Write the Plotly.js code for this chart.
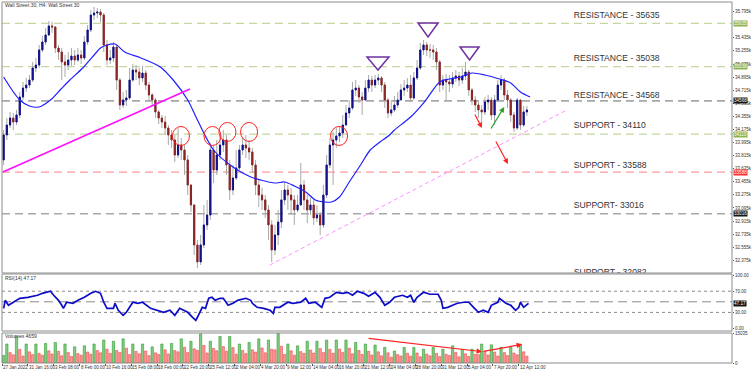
<!DOCTYPE html>
<html><head><meta charset="utf-8">
<script src="https://cdn.plot.ly/plotly-3.0.1.min.js"></script>
<style>html,body{margin:0;padding:0;background:#fff}#chart{width:751px;height:372px}</style>
</head><body><div id="chart"></div>
<script>
// ---------- DATA (8-hour candles, x = bar index in 4h bars) ----------
const firstOpen = 33755;
const closes = [
34099,34236,34332,34277,34374,34621,34745,34786,34855,35020,
35061,35268,35378,35474,35598,35584,35295,35240,35103,35061,
35130,35185,35130,35199,35158,35378,35543,35749,35777,35790,
35749,35337,35130,35158,35309,34855,34511,34580,34608,34855,
34993,34965,34883,34951,34786,34649,34580,34415,34332,34277,
34195,34099,34030,33823,33961,33892,33755,33411,33136,32586,
32352,32586,32861,32998,33892,33617,33823,33961,34030,33686,
33342,33507,33645,33892,33961,33920,33865,33686,33411,33273,
33205,33067,32861,32517,32723,32902,33205,33342,33273,33205,
33067,33136,33411,33205,33067,33136,32957,32998,32861,33273,
33686,33961,34030,34085,34126,34236,34401,34470,34718,34745,
34621,34580,34745,34855,34786,34855,34883,34786,34580,34401,
34443,34511,34580,34718,34745,34786,34608,34883,35020,35268,
35337,35268,35268,35240,35103,34786,34855,34828,34800,34883,
34910,34855,34910,34965,34718,34580,34511,34443,34415,34553,
34580,34374,34580,34786,34855,34649,34580,34374,34195,34580,
34236,34415,34443];
const highs = [
34167,34332,34415,34401,34443,34690,34828,34883,34924,35103,
35158,35337,35460,35570,35667,35653,35598,35337,35295,35199,
35240,35295,35268,35295,35268,35460,35612,35818,35859,35845,
35832,35777,35405,35268,35378,35337,34883,34690,34718,35020,
35075,35061,35020,35048,34993,34828,34676,34608,34443,34374,
34360,34236,34167,34099,34195,34057,33961,33823,33411,33136,
32654,32723,33136,33205,33988,33961,34030,34099,34167,34099,
33755,33686,33892,33961,34057,34099,34030,33920,33755,33480,
33370,33273,33136,32929,32861,33067,33342,33452,33411,33370,
33273,33273,33713,33480,33273,33232,33205,33136,33040,33411,
33823,34057,34140,34195,34209,34374,34511,34580,34828,34855,
34786,34690,34855,34924,34910,34924,34938,34910,34828,34608,
34580,34635,34690,34800,34855,34883,34924,34965,35130,35364,
35405,35378,35350,35337,35295,35130,34924,34938,34924,34965,
34993,34965,35020,35103,34993,34745,34635,34580,34511,34621,
34649,34621,34649,34855,34924,34883,34718,34608,34415,34608,
34580,34498,34498];
const lows = [
33686,34030,34195,34167,34236,34332,34580,34690,34745,34828,
34965,35020,35240,35337,35460,35502,35226,35130,34855,34896,
34993,35048,35061,35103,35075,35130,35337,35515,35680,35708,
35653,35240,35061,35075,35103,34718,34443,34470,34498,34580,
34830,34855,34786,34828,34718,34580,34498,34332,34250,34195,
34099,33961,33920,33727,33782,33755,33548,33273,33040,32448,
32269,32310,32544,32792,32929,33438,33548,33755,33865,33548,
33205,33273,33480,33617,33823,33782,33755,33576,33273,33108,
33067,32957,32654,32352,32448,32586,32819,33136,33067,32998,
32861,33040,33136,33067,32888,32998,32861,32902,32723,32819,
33232,33645,33411,33920,34002,34057,34236,34332,34443,34635,
34539,34374,34580,34690,34690,34745,34786,34690,34470,34332,
34360,34415,34470,34580,34635,34690,34553,34580,34855,34993,
35199,35185,35158,35130,34993,34690,34718,34580,34690,34745,
34828,34773,34800,34855,34635,34511,34415,34332,34236,34374,
34443,34305,34236,34553,34718,34580,34470,34277,34140,34167,
34167,34210,34360];
const volumes = [
3800,9500,5200, 4100,13300,6800, 3500,9500,5600, 4200,9500,4800, 3900,9800,6100,
4500,10300,5900, 3600,9500,5200, 3300,8100,4700, 3900,8600,5500, 4400,9500,6200,
5100,11500,6900, 4800,10900,6300, 5300,12100,7400, 4200,9500,5800, 4600,9500,6000,
3700,8100,5100, 4300,9500,6600, 4500,9800,6200, 5600,12100,7900, 5200,10900,7100,
6400,14600,8800, 5000,10900,7300, 6100,13300,8200, 5900,13300,7700, 4400,9500,6300,
4700,10300,6600, 5500,12100,7500, 5100,11500,6900, 6600,15000,8400, 4300,9500,6100,
3900,8600,5700, 4800,10900,6500, 5000,10900,7200, 5200,11500,6800, 4900,11500,7000,
5300,11500,7400, 4600,10300,6300, 4300,9500,5900, 4000,9000,5600, 3600,7800,5100,
2900,6000,4200, 3500,7800,4900, 3400,7800,5000, 3100,6900,4500, 3600,7800,4800,
3200,6900,4400, 3800,8600,5300, 3100,6900,4600, 3300,6900,4300, 4200,9500,5800,
4000,9100,5500, 3500,7800,5200, 3700,8100,5000, 4100,9500,5600, 3400];
const maX = [0,10,16,22,29,35,41,49,55,60,64,69,75,85,97,105,114,120,130,142,153,159,168,174,180,187,193,199,203,208,214,221,227,233,239,242,252,261,270,276,283,290,298,307,314,320,326];
const maY = [34896,34580,34498,34484,34580,34718,34855,35020,35172,35295,35337,35350,35240,35158,35034,34855,34580,34305,33892,33658,33521,33480,33438,33452,33397,33315,33205,33177,33177,33246,33452,33686,33892,34002,34099,34167,34346,34566,34828,34869,34896,34951,34924,34869,34814,34690,34621];
const rsiX = [0,1,3,6,10,15,21,24,29,31,34,36,37,39,43,46,50,54,57,60,62,64,68,69,71,74,76,78,80,83,86,91,95,99,103,106,109,114,117,119,120,123,125,127,129,131,134,136,139,142,145,150,153,154,157,161,165,167,168,171,176,179,184,187,189,193,197,199,202,206,210,213,216,219,223,226,230,233,236,239,242,247,250,252,254,256,260,264,269,271,272,275,278,281,285,288,291,294,297,300,302,306,307,311,314,317,319,320,322,324,325];
const rsiY = [37.7,52.8,43.4,49.1,56.6,58.5,62.3,66.0,69.8,62.3,52.8,43.4,37.7,49.1,47.2,52.8,58.5,66.0,69.8,66.0,49.1,37.7,37.7,47.2,34.0,24.5,30.2,39.6,49.1,47.2,49.1,37.7,34.0,30.2,34.0,24.5,37.7,30.2,20.8,15.1,20.8,39.6,37.7,56.6,58.5,52.8,56.6,56.6,43.4,47.2,52.8,56.6,52.8,47.2,39.6,37.7,34.0,28.3,39.6,39.6,49.1,47.2,49.1,56.6,47.2,49.1,39.6,56.6,58.5,67.9,66.0,67.9,62.3,69.8,66.0,60.4,67.9,58.5,43.4,49.1,58.5,62.3,58.5,62.3,49.1,58.5,67.9,64.2,64.2,52.8,37.7,39.6,43.4,47.2,49.1,49.1,39.6,30.2,34.0,30.2,43.4,49.1,56.6,47.2,43.4,34.0,39.6,49.1,39.6,45.3,47.2];
const levelValues = [35635, 35038, 34568, 34110, 33588, 33016, 32082];
const levelTexts = ["RESISTANCE - 35635","RESISTANCE - 35038","RESISTANCE - 34568","SUPPORT - 34110","SUPPORT - 33588","SUPPORT- 33016","SUPPORT - 32082"];
const priceTicks = [32375,32555,32735,32915,33095,33275,33455,33635,33815,33995,34175,34355,34535,34715,34895,35075,35255,35435,35795];
const timeLabels = ["27 Jan 2022","31 Jan 16:00","3 Feb 08:00","8 Feb 00:00","10 Feb 16:00","15 Feb 08:00","18 Feb 00:00","22 Feb 20:00","25 Feb 12:00","2 Mar 04:00","4 Mar 20:00","9 Mar 12:00","14 Mar 04:00","16 Mar 20:00","21 Mar 12:00","24 Mar 04:00","28 Mar 20:00","31 Mar 12:00","5 Apr 04:00","7 Apr 20:00","12 Apr 12:00"];
const rsiLast = 47.17;
const volumeLast = 4659;
const volumeMax = 15035;

// ---------- DERIVED ----------
const BARS_PER_CANDLE = 2, BARS_PER_LABEL = 16;
const xs = closes.map((_, k) => k * BARS_PER_CANDLE);
const opens = closes.map((c, k) => k === 0 ? firstOpen : closes[k - 1]);
const bodyHi = closes.map((c, k) => Math.max(c, opens[k]));
const bodyLo = closes.map((c, k) => Math.min(c, opens[k]));
const volColors = volumes.map((v, k) => (k === 0 || v > volumes[k - 1]) ? '#86cc86' : '#ff9a9a');
const volLines = volumes.map((v, k) => (k === 0 || v > volumes[k - 1]) ? '#2e9a2e' : '#e84848');

// ---------- GEOMETRY ----------
const W = 751, H = 372, ML = 2, MR = 19, MT = 2, MB = 9;
const PH = H - MT - MB;
const py = p => (H - MB - p) / PH;        // pixel row -> paper y
const mainDom = [py(273), 1], rsiDom = [py(331), py(274)], volDom = [0, py(333)];
const mainRange = [32200, 35928];
const ppp = (mainRange[1] - mainRange[0]) / ((1 - mainDom[0]) * PH); // price per pixel

const levelColor = ['#c4d79f', '#c4d79f', '#a8a8a8', '#c4d79f', '#ff9c9c', '#a8a8a8'];
const levelBox = ['#8fb251', '#8fb251', '#151515', '#8fb251', '#ff2a2a', '#151515'];
const textPxAbove = [7.6, 7.7, 5.5, 8, 6, 7.7, 0];

const traces = [
  { type: 'candlestick', x: xs, open: opens, high: highs, low: lows, close: closes,
    xaxis: 'x', yaxis: 'y', hoverinfo: 'skip', whiskerwidth: 0,
    increasing: { line: { color: '#a9a9a9', width: 1 }, fillcolor: '#a9a9a9' },
    decreasing: { line: { color: '#a9a9a9', width: 1 }, fillcolor: '#a9a9a9' } },
  { type: 'candlestick', x: xs, open: opens, high: bodyHi, low: bodyLo, close: closes,
    xaxis: 'x', yaxis: 'y', hoverinfo: 'skip', whiskerwidth: 0,
    increasing: { line: { color: '#10108c', width: 1 }, fillcolor: '#10108c' },
    decreasing: { line: { color: '#8c2323', width: 1 }, fillcolor: '#8c2323' } },
  { type: 'scatter', mode: 'lines', x: maX, y: maY, xaxis: 'x', yaxis: 'y',
    line: { color: '#1f1fff', width: 1.2, shape: 'spline', smoothing: 0.8 }, hoverinfo: 'skip' },
  { type: 'scatter', mode: 'text', x: levelValues.map(() => 353), cliponaxis: true,
    y: levelValues.map((v, i) => i < 6 ? v + textPxAbove[i] * ppp : mainRange[0] + 0.6 * ppp),
    text: levelTexts, textposition: 'middle right', xaxis: 'x', yaxis: 'y', hoverinfo: 'skip',
    textfont: { family: 'Liberation Sans, Arial, sans-serif', size: 8.6, color: '#333' } },
  { type: 'scatter', mode: 'lines', x: rsiX, y: rsiY, xaxis: 'x', yaxis: 'y2',
    line: { color: '#0c0cc8', width: 1.7 }, hoverinfo: 'skip' },
  { type: 'bar', x: xs, y: volumes, xaxis: 'x', yaxis: 'y3', hoverinfo: 'skip',
    marker: { color: volColors, line: { color: volLines, width: 0.6 } } }
];

const smallFont = { family: 'Liberation Sans, Arial, sans-serif', size: 5, color: '#333' };
const dateFont = { family: 'Liberation Sans, Arial, sans-serif', size: 4.5, color: '#333' };
const tickFont = { family: 'Liberation Sans, Arial, sans-serif', size: 4.5, color: '#333' };
const shapes = [];
const annotations = [];

// level lines + right boxes
levelValues.slice(0, 6).forEach((v, i) => {
  shapes.push({ type: 'line', xref: 'paper', x0: 0, x1: 1, yref: 'y', y0: v, y1: v, layer: 'below',
    line: { color: levelColor[i], width: (i === 2 || i === 5) ? 1.6 : 1.2, dash: '8px,5px' } });
  annotations.push({ xref: 'paper', x: 1, xanchor: 'left', xshift: 1, yref: 'y', y: v, yanchor: 'middle',
    text: String(v), showarrow: false, bgcolor: levelBox[i], borderpad: 0,
    font: { family: 'Liberation Sans, Arial, sans-serif', size: 4.6, color: '#fff' } });
});
// trend lines
shapes.push({ type: 'line', xref: 'x', yref: 'y', x0: -0.4, y0: 33590, x1: 115.4, y1: 34731,
  line: { color: '#ff10ff', width: 1.6 } });
shapes.push({ type: 'line', xref: 'x', yref: 'y', x0: 164.9, y0: 32310, x1: 348.8, y1: 34443,
  line: { color: '#ff90ff', width: 1, dash: '4px,3px' } });
// circles
[[109.8, 34085], [129.3, 34085], [138.6, 34140], [152, 34140], [207.7, 34085]].forEach(c => {
  shapes.push({ type: 'circle', xref: 'x', yref: 'y', xsizemode: 'pixel', ysizemode: 'pixel',
    xanchor: c[0], yanchor: c[1], x0: -8.5, x1: 8.5, y0: -9.5, y1: 9.5, line: { color: '#ff2020', width: 1 } });
});
// triangles
[[225, 238.6, 35172, 34993], [256.6, 269, 35639, 35447], [282.6, 294.4, 35309, 35130]].forEach(t => {
  shapes.push({ type: 'path', xref: 'x', yref: 'y', line: { color: '#7030a0', width: 1.5 },
    path: `M ${t[0]} ${t[2]} L ${t[1]} ${t[2]} L ${(t[0] + t[1]) / 2} ${t[3]} Z` });
});
// arrows on price
[[296.2, 34195, 291.3, 34401, '#ff2020'], [312.3, 33700, 304.3, 34030, '#ff2020'], [310, 34484, 301.2, 34167, '#2ca02c']].forEach(a => {
  annotations.push({ xref: 'x', yref: 'y', x: a[0], y: a[1], axref: 'x', ayref: 'y', ax: a[2], ay: a[3],
    text: '', showarrow: true, arrowhead: 2, arrowsize: 0.9, arrowwidth: 1.2, arrowcolor: a[4], standoff: 0 });
});
// arrows on volume
[[296.2, 5683, 225, 12400], [321, 9300, 296.2, 5683]].forEach(a => {
  annotations.push({ xref: 'x', yref: 'y3', x: a[0], y: a[1], axref: 'x', ayref: 'y3', ax: a[2], ay: a[3],
    text: '', showarrow: true, arrowhead: 2, arrowsize: 0.9, arrowwidth: 1.2, arrowcolor: '#ff2020', standoff: 0 });
});
// RSI guide lines
[[70, 'dot'], [30, 'dot'], [50, '9px,5px']].forEach(g => {
  shapes.push({ type: 'line', xref: 'paper', x0: 0, x1: 1, yref: 'y2', y0: g[0], y1: g[0], layer: 'below',
    line: { color: '#8a8a8a', width: 1, dash: g[1] } });
});
annotations.push({ xref: 'paper', x: 1, xanchor: 'left', xshift: 1, yref: 'y2', y: rsiLast, yanchor: 'middle',
  text: rsiLast.toFixed(2), showarrow: false, bgcolor: '#151515', borderpad: 0,
  font: { family: 'Liberation Sans, Arial, sans-serif', size: 4.6, color: '#fff' } });
// panel frames
[mainDom, rsiDom, volDom].forEach(d => {
  shapes.push({ type: 'rect', xref: 'paper', yref: 'paper', x0: 0, x1: 1, y0: d[0], y1: d[1],
    line: { color: '#8c8c8c', width: 1 } });
});
// texts
annotations.push({ xref: 'paper', yref: 'paper', x: 0.002, y: py(5), xanchor: 'left', yanchor: 'middle',
  text: 'Wall Street 30, H4: Wall Street 30', showarrow: false, font: smallFont });
annotations.push({ xref: 'paper', yref: 'paper', x: 0.002, y: py(278), xanchor: 'left', yanchor: 'middle',
  text: 'RSI(14) ' + rsiLast.toFixed(2), showarrow: false, font: smallFont });
annotations.push({ xref: 'paper', yref: 'paper', x: 0.002, y: py(335.5), xanchor: 'left', yanchor: 'middle',
  text: 'Volumes ' + volumeLast, showarrow: false, font: smallFont });
timeLabels.forEach((t, i) => {
  annotations.push({ xref: 'x', yref: 'paper', x: i * BARS_PER_LABEL - 1, y: py(367.5), xanchor: 'left', yanchor: 'middle',
    text: t, showarrow: false, font: dateFont, borderpad: 0 });
});

const layout = {
  width: W, height: H, margin: { l: ML, r: MR, t: MT, b: MB },
  paper_bgcolor: '#fff', plot_bgcolor: '#fff', showlegend: false, hovermode: false,
  xaxis: { range: [-1, 451], anchor: 'y3', showgrid: false, zeroline: false, rangeslider: { visible: false },
    tickvals: timeLabels.map((_, i) => i * BARS_PER_LABEL - 1), showticklabels: false,
    ticks: 'outside', ticklen: 2, tickcolor: '#555', showline: false },
  yaxis: { domain: mainDom, range: mainRange, anchor: 'x', side: 'right', showgrid: false, zeroline: false,
    tickvals: priceTicks, ticks: 'outside', ticklen: 1, tickcolor: '#555', tickfont: tickFont,
    showline: false },
  yaxis2: { domain: rsiDom, range: [-5.1, 102.45], anchor: 'x', side: 'right', showgrid: false, zeroline: false,
    tickvals: [0, 30, 70, 100], ticktext: ['0.00', '30.00', '70.00', '100.00'], ticks: 'outside', ticklen: 1,
    tickcolor: '#555', tickfont: tickFont },
  yaxis3: { domain: volDom, range: [0, volumeMax], anchor: 'x', side: 'right', showgrid: false, zeroline: false,
    tickvals: [0, volumeMax], ticktext: ['0', String(volumeMax)], ticks: 'outside', ticklen: 1,
    tickcolor: '#555', tickfont: tickFont },
  bargap: 0.3, boxgap: 0.5,
  shapes: shapes, annotations: annotations
};

Plotly.newPlot('chart', traces, layout, { staticPlot: true, displayModeBar: false });
</script></body></html>
